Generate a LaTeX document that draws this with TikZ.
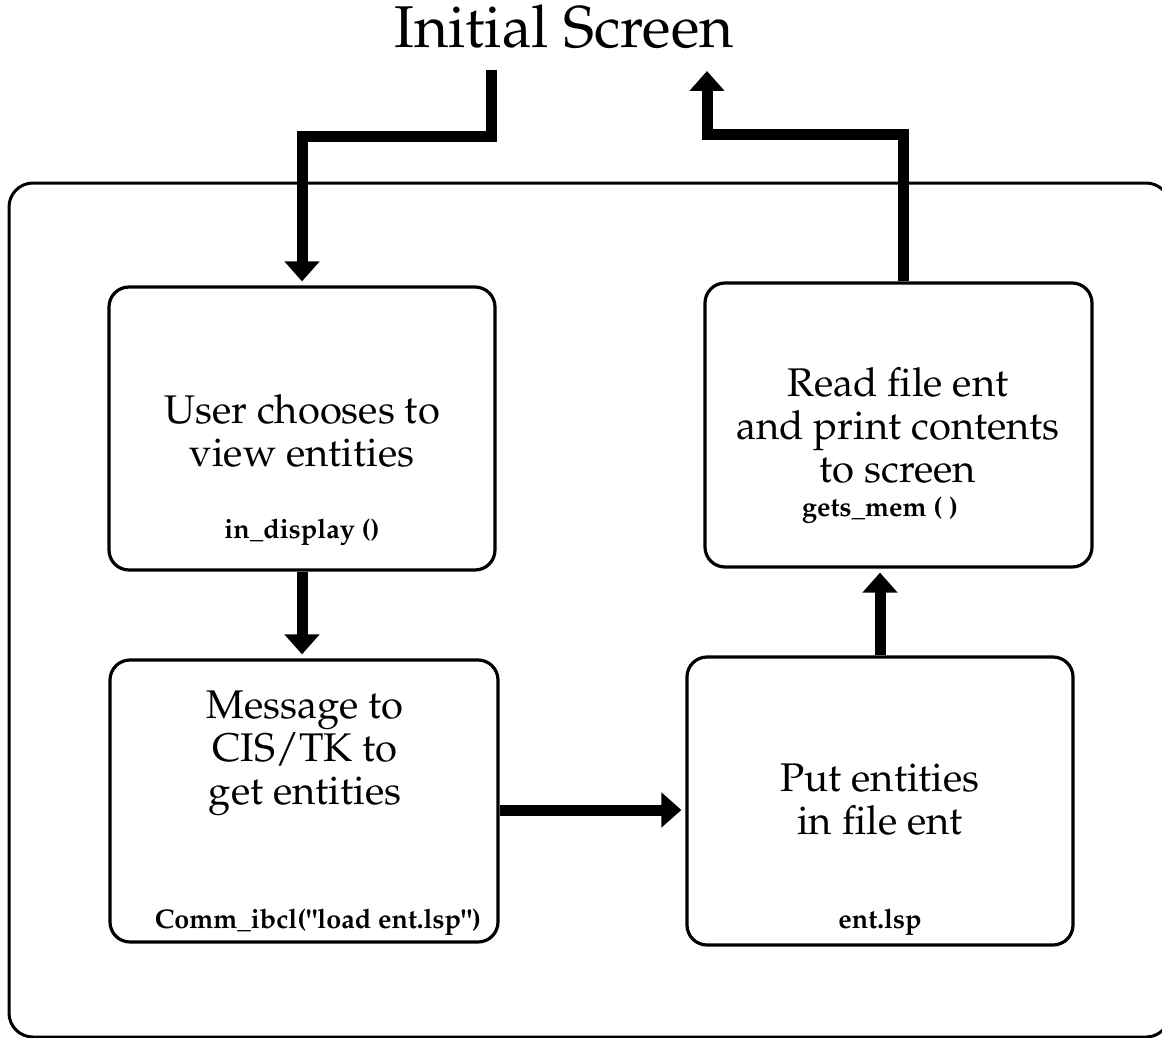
\documentclass[tikz,border=0pt]{standalone}
\usepackage[T1]{fontenc}
\usepackage{mathpazo}
\usetikzlibrary{arrows.meta,calc}
\begin{document}
\begin{tikzpicture}[x=1pt,y=-1pt,
  box/.style={draw,line width=3.2pt,rounded corners=20pt,inner sep=0pt},
  frame/.style={draw,line width=3pt,rounded corners=24pt},
  maintext/.style={align=center,font=\fontsize{40}{43}\selectfont,inner sep=0pt},
  codetext/.style={font=\fontsize{27}{30}\selectfont\bfseries,inner sep=0pt},
  bigarrow/.style={line width=11pt,line join=miter,-{Triangle[width=34pt,length=20pt]},shorten >=4pt},
]
\useasboundingbox (0,0) rectangle (1162,1038);
\path[frame] (9,183) rectangle (1170,1037);

\node[font=\fontsize{59}{62}\selectfont,inner sep=0pt] (title) at (564,27) {Initial Screen};

\node[box,minimum width=386pt,minimum height=283pt] (b1) at (302,428.5) {};
\node[box,minimum width=388pt,minimum height=282pt] (b2) at (304,801) {};
\node[box,minimum width=386pt,minimum height=288pt] (b3) at (880,801) {};
\node[box,minimum width=387pt,minimum height=284pt] (b4) at (898.5,425) {};

\node[maintext] (t1) at (302,431) {User chooses to\\view entities};
\node[codetext] (c1) at (302,532) {in\_display ()};
\node[maintext] (t2) at (305,753) {Message to\\CIS/TK to\\get entities};
\node[codetext] (c2) at (318,922) {Comm\_ibcl("load ent.lsp")};
\node[maintext] (t3) at (880,800) {Put entities\\in file ent};
\node[codetext] (c3) at (880,922) {ent.lsp};
\node[maintext] (t4) at (898,425) {Read file ent\\and print contents\\to screen};
\node[codetext] (c4) at (880,510) {gets\_mem ( )};

\coordinate (in0) at (491,70);
\coordinate (in1) at (302,137);
\coordinate (out1) at (903,135);
\coordinate (out2) at (707,67);

\draw[bigarrow] (in0) |- (in1) -- (in1 |- b1.north);
\draw[bigarrow] (out1 |- b4.north) -- (out1) -| (out2);
\draw[bigarrow] (b1.south -| in1) -- (b2.north -| in1);
\draw[bigarrow] (b2.east |- 0,810) -- (b3.west |- 0,810);
\draw[bigarrow] (b3.north -| c3) -- (b4.south -| c3);
\end{tikzpicture}
\end{document}
